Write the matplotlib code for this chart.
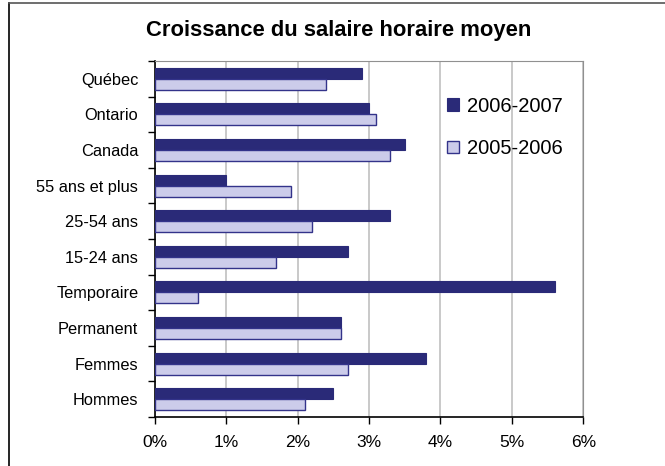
import numpy as np
import matplotlib
matplotlib.use("Agg")
import matplotlib.pyplot as plt
from matplotlib.lines import Line2D

plt.rcParams['font.family'] = ['Liberation Sans', 'DejaVu Sans']

# donnees (de haut en bas)
categories = ['Québec', 'Ontario', 'Canada', '55 ans et plus', '25-54 ans',
              '15-24 ans', 'Temporaire', 'Permanent', 'Femmes', 'Hommes']
val_2006_2007 = [2.9, 3.0, 3.5, 1.0, 3.3, 2.7, 5.6, 2.6, 3.8, 2.5]
val_2005_2006 = [2.4, 3.1, 3.3, 1.9, 2.2, 1.7, 0.6, 2.6, 2.7, 2.1]
xticks = [0, 1, 2, 3, 4, 5, 6]
xtick_labels = ['0%', '1%', '2%', '3%', '4%', '5%', '6%']

fig = plt.figure(figsize=(6.65, 4.66), dpi=100)
ax = fig.add_axes([0.233, 0.105, 0.644, 0.764])

n = len(categories)
y = np.arange(n)[::-1]
h = 0.31

ax.barh(y + h / 2, val_2006_2007, height=h, color='#2a2a78',
        edgecolor='#2a2a78', linewidth=0.8, label='2006-2007', zorder=3)
ax.barh(y - h / 2, val_2005_2006, height=h, color='#ccccea',
        edgecolor='#33338a', linewidth=1.0, label='2005-2006', zorder=3)

ax.set_xlim(0, 6)
ax.set_ylim(-0.5, n - 0.5)
ax.set_xticks(xticks)
ax.set_xticklabels(xtick_labels, fontsize=12.5)
ax.set_yticks(y)
ax.set_yticklabels(categories, fontsize=11.8)
ax.tick_params(axis='y', length=0, pad=12)
ax.tick_params(axis='x', length=5, width=1, pad=8)

# ticks entre categories (style excel)
ax.set_yticks(np.arange(n + 1) - 0.5, minor=True)
ax.tick_params(axis='y', which='minor', length=5, width=1)

ax.grid(axis='x', color='#c0c0c0', linewidth=1.2, zorder=0)
for s in ['top', 'right']:
    ax.spines[s].set_color('#909090')
ax.spines['left'].set_color('black')
ax.spines['bottom'].set_color('black')
ax.spines['left'].set_linewidth(1.2)
ax.spines['bottom'].set_linewidth(1.2)

fig.text(0.51, 0.935, 'Croissance du salaire horaire moyen', ha='center',
         va='center', fontsize=15.8, fontweight='bold')

ax.legend(loc='upper left', bbox_to_anchor=(0.64, 0.95), frameon=False,
          fontsize=14.5, handlelength=0.6, handleheight=0.6, handletextpad=0.4,
          labelspacing=1.15)

# cadre exterieur
fig.add_artist(Line2D([0.014, 0.014], [0, 0.993], color='black', lw=1.2))
fig.add_artist(Line2D([0.014, 1], [0.993, 0.993], color='#555555', lw=1.2))

fig.savefig('out.png', dpi=100)
